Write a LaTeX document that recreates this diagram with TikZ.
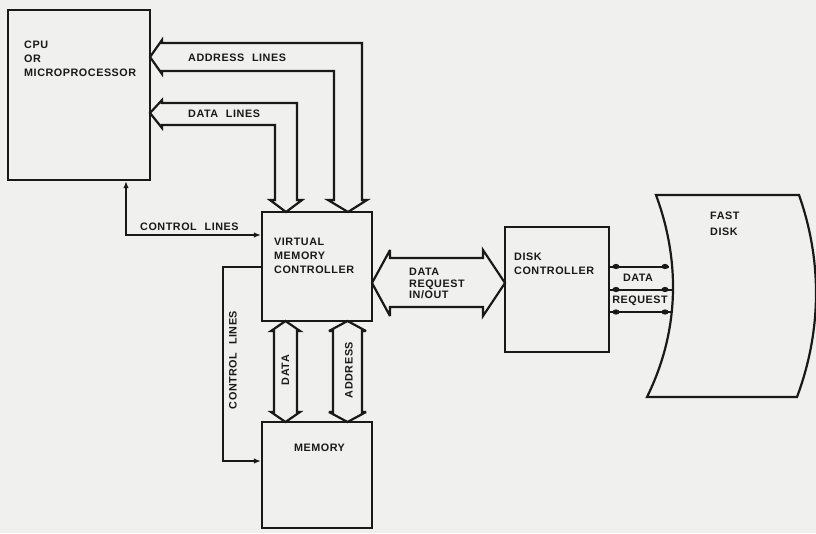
\documentclass[tikz,border=0pt]{standalone}
\usepackage{fontspec}
\setmainfont{Liberation Sans}[LetterSpace=5,WordSpace=2.2]
\usetikzlibrary{arrows.meta,calc}
\definecolor{paper}{RGB}{240,240,238}
\definecolor{ink}{RGB}{25,25,25}
\tikzset{
  box/.style={draw=ink,line width=2.2pt,rectangle,inner sep=0pt},
  lbl/.style={font=\bfseries\fontsize{10.8}{14}\selectfont,text=ink,inner sep=0pt,align=left},
  fat/.style={draw=ink,line width=2.2pt,line join=miter,miter limit=4},
  wire/.style={draw=ink,line width=2pt,line join=miter},
  tip/.style={arrows={#1}},
  blob/.style={fill=ink,draw=none},
}
\newcommand{\Tp}{Latex[length=7pt,width=5.5pt]}
\begin{document}
\begin{tikzpicture}[x=1pt,y=-1pt]
\useasboundingbox (0,0) rectangle (816,533);
\fill[paper] (0,0) rectangle (816,533);

% boxes
\node[box,minimum width=142pt,minimum height=170pt] (cpu) at (79,95) {};
\node[box,minimum width=110pt,minimum height=109pt] (vmc) at (317,266.5) {};
\node[box,minimum width=110pt,minimum height=106pt] (mem) at (317,475) {};
\node[box,minimum width=104pt,minimum height=125pt] (dc) at (557,289.5) {};

% fast disk
\draw[fat] (656,195) coordinate (fdtl) -- (799,195) coordinate (fdtr)
  .. controls (822,260) and (822,330) .. (797,397) coordinate (fdbr)
  -- (647,397) coordinate (fdbl)
  .. controls (680,330) and (680,260) .. (656,195) -- cycle;

% address lines bus
\draw[fat] (150,57) -- (162,40) -- (162,43) -- (362,43) -- (362,200) -- (367,200)
  -- (348,212) -- (328,200) -- (334,200) -- (334,71) -- (162,71) -- (162,74) -- cycle;
% data lines bus
\draw[fat] (150,113) -- (162,100) -- (162,103) -- (297,103) -- (297,200) -- (302,200)
  -- (286,212) -- (270,200) -- (275,200) -- (275,125) -- (162,125) -- (162,128) -- cycle;
% data bus to memory
\draw[fat] (285.5,321) -- (300,331) -- (297,331) -- (297,412) -- (300,412) -- (285.5,422)
  -- (271,412) -- (274,412) -- (274,331) -- (271,331) -- cycle;
% address bus to memory
\draw[fat] (347.5,321) -- (366,331) -- (362,331) -- (362,412) -- (366,412) -- (347.5,422)
  -- (329,412) -- (333,412) -- (333,331) -- (329,331) -- cycle;
% data request in/out bus
\draw[fat] (372,283) -- (390,250) -- (390,258) -- (483,258) -- (483,250) -- (505,283)
  -- (483,316) -- (483,307) -- (390,307) -- (390,316) -- cycle;

% control lines
\draw[wire,tip={\Tp-\Tp}] (cpu.south -| 126,0) |- (vmc.west |- 0,235);
\draw[wire,tip={-\Tp}] (vmc.west |- 0,267) -| (223,461) -- (mem.west |- 0,461);

% disk lines
\foreach \yy/\xe in {266.5/669,289.5/672,312/671}{
  \draw[wire] (dc.east |- 0,\yy) -- (\xe,\yy);
  \fill[blob] (616,\yy) ellipse (3.6pt and 2.6pt);
  \fill[blob] (665,\yy) ellipse (3.6pt and 2.6pt);
}

% labels
\node[lbl,anchor=north west] (tcpu) at (24,41) {CPU\\OR\\MICROPROCESSOR};
\node[lbl,anchor=west] (taddr) at (188,58) {ADDRESS LINES};
\node[lbl,anchor=west] (tdl) at (188,114) {DATA LINES};
\node[lbl,anchor=west] (tcl) at (140,227) {CONTROL LINES};
\node[lbl,anchor=north west] (tvmc) at (274,238) {VIRTUAL\\MEMORY\\CONTROLLER};
\node[lbl,rotate=90] (tcl2) at (233,360) {CONTROL LINES};
\node[lbl,rotate=90] (tdata) at (285.5,370) {DATA};
\node[lbl,rotate=90] (taddr2) at (349,370) {ADDRESS};
\node[lbl] (tmem) at (319.5,448) {MEMORY};
\node[lbl,anchor=north west,font=\bfseries\fontsize{10.8}{11.5}\selectfont] (tdr) at (409,268) {DATA\\REQUEST\\IN/OUT};
\node[lbl,anchor=north west] (tdc) at (514,253) {DISK\\CONTROLLER};
\node[lbl] (tdd) at (638,278) {DATA};
\node[lbl] (treq) at (640,300.5) {REQUEST};
\node[lbl,anchor=north west,font=\bfseries\fontsize{10.8}{15.5}\selectfont] (tfd) at (710,212) {FAST\\DISK};
\end{tikzpicture}
\end{document}
